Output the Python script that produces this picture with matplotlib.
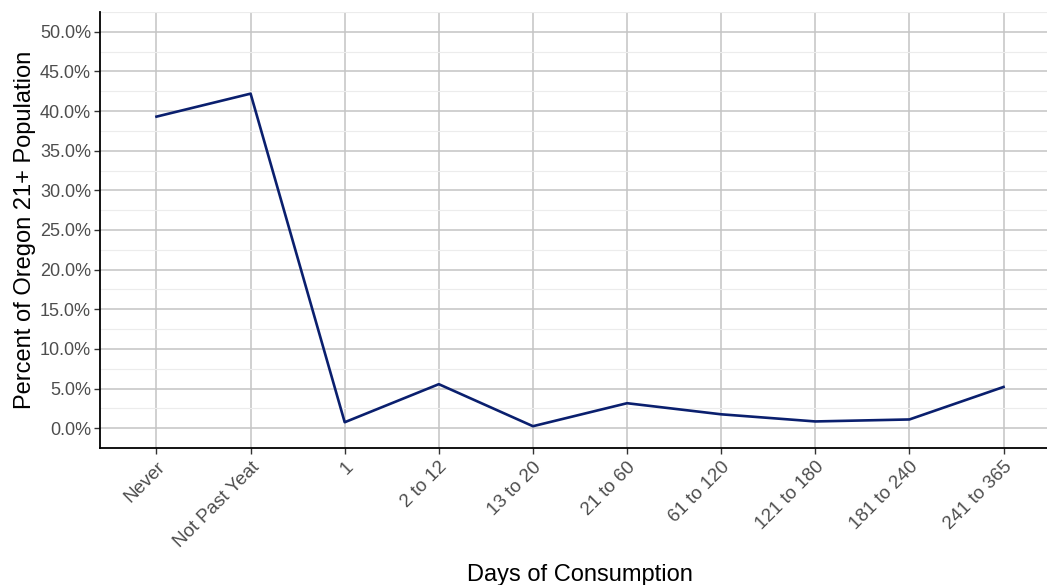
import matplotlib
matplotlib.use("Agg")
import matplotlib.pyplot as plt
from matplotlib.ticker import FuncFormatter, MultipleLocator

# datos
categorias = ["Never", "Not Past Yeat", "1", "2 to 12", "13 to 20", "21 to 60",
              "61 to 120", "121 to 180", "181 to 240", "241 to 365"]
porcentaje = [39.3, 42.2, 0.75, 5.55, 0.25, 3.15, 1.75, 0.85, 1.1, 5.2]

plt.rcParams['font.family'] = ['Liberation Sans', 'DejaVu Sans']

fig = plt.figure(figsize=(10.47, 5.85), dpi=100)
ax = fig.add_axes([100 / 1047, 137 / 585, 960 / 1047, 436 / 585])

x = list(range(len(categorias)))
ax.plot(x, porcentaje, color="#0a1f6e", linewidth=1.9, zorder=3)

ax.set_xlim(-0.6, len(categorias) - 0.4)
ax.set_ylim(-2.5, 52.5)
ax.set_xticks(x)
ax.set_xticklabels(categorias, rotation=45, ha="right", va="top",
                   rotation_mode="anchor", color="#4d4d4d", fontsize=13.5)
ax.yaxis.set_major_locator(MultipleLocator(5))
ax.yaxis.set_minor_locator(MultipleLocator(2.5))
ax.yaxis.set_major_formatter(FuncFormatter(lambda v, p: f"{v:.1f}%"))
ax.tick_params(axis="y", labelcolor="#4d4d4d", labelsize=13, color="#333333",
               length=4.5, width=1, pad=2)
ax.tick_params(axis="y", which="minor", length=0)
ax.tick_params(axis="x", color="#333333", length=4.5, width=1, pad=3)

# cuadricula estilo ggplot
ax.grid(True, which="major", color="#c4c4c4", linewidth=1.1, zorder=0)
ax.grid(True, which="minor", axis="y", color="#ececec", linewidth=0.8, zorder=0)
ax.set_axisbelow(True)

for lado in ["top", "right"]:
    ax.spines[lado].set_visible(False)
for lado in ["left", "bottom"]:
    ax.spines[lado].set_color("black")
    ax.spines[lado].set_linewidth(1.3)

ax.set_ylabel("Percent of Oregon 21+ Population", fontsize=17, labelpad=3)
ax.set_xlabel("Days of Consumption", fontsize=17, labelpad=10)

fig.savefig("out.png", dpi=100)
